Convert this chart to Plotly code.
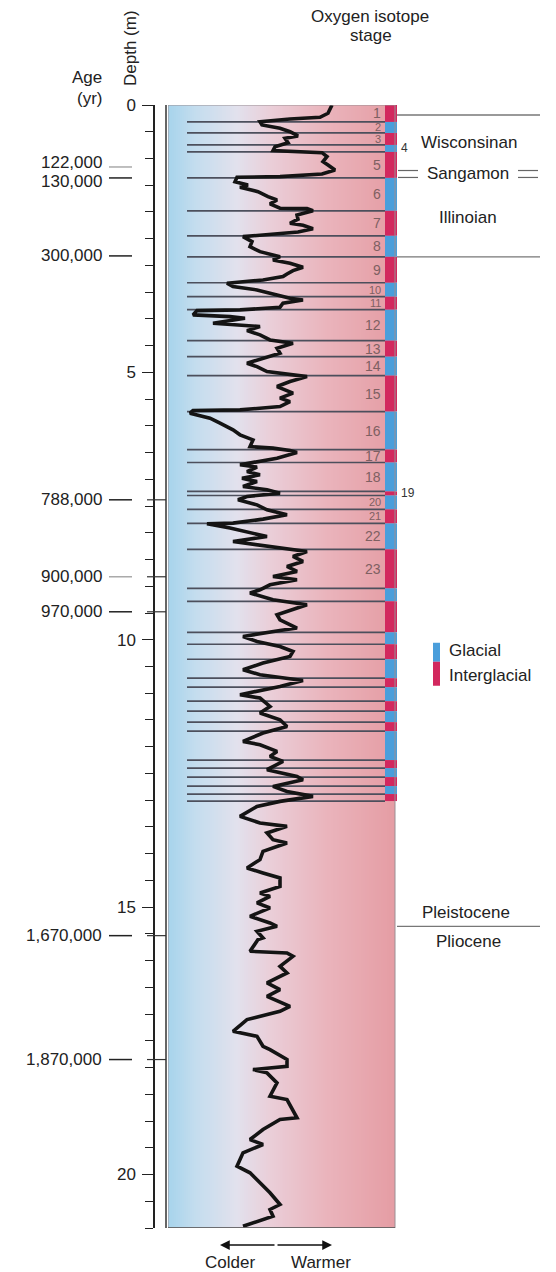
import plotly.graph_objects as go
import numpy as np

# ---------------- data ----------------
# Oxygen-isotope curve: depth (m) and relative temperature index (colder -> warmer)
curve_depth = [0.000, 0.155, 0.230, 0.262, 0.312, 0.374, 0.436, 0.499, 0.579, 0.622, 0.705, 0.779, 0.854, 0.869,
               0.892, 0.966, 1.060, 1.122, 1.215, 1.290, 1.340, 1.351, 1.434, 1.495, 1.538, 1.621, 1.714, 1.776,
               1.850, 1.931, 1.938, 1.976, 2.056, 2.136, 2.211, 2.249, 2.312, 2.374, 2.430, 2.462, 2.555, 2.649,
               2.742, 2.836, 2.897, 2.959, 3.034, 3.097, 3.159, 3.209, 3.271, 3.333, 3.396, 3.458, 3.551, 3.613,
               3.645, 3.707, 3.781, 3.832, 3.845, 3.925, 3.957, 3.987, 4.080, 4.144, 4.219, 4.299, 4.393, 4.454,
               4.548, 4.641, 4.828, 4.892, 4.985, 5.079, 5.172,
               5.265, 5.389, 5.482, 5.546, 5.639, 5.701, 5.714, 5.763, 5.856, 5.950, 6.075, 6.168, 6.262, 6.387,
               6.417, 6.462, 6.499, 6.604, 6.729, 6.772, 6.854, 6.916, 6.978, 7.041, 7.134, 7.196, 7.258, 7.321,
               7.383, 7.477, 7.570, 7.664, 7.744, 7.819, 7.832, 7.912, 8.006, 8.069, 8.163, 8.224, 8.286, 8.350,
               8.443, 8.536, 8.630, 8.723, 8.817, 8.879, 8.972, 9.065, 9.127, 9.252, 9.346, 9.439, 9.533, 9.626,
               9.781, 9.826, 9.938, 10.032, 10.125, 10.219, 10.312, 10.436,
               10.561, 10.654, 10.761, 10.873, 11.028, 11.090, 11.247, 11.370, 11.495, 11.621, 11.744, 11.901,
               11.963, 12.088, 12.181, 12.275, 12.430, 12.555, 12.617, 12.742, 12.836, 12.929, 13.022, 13.116,
               13.303, 13.426, 13.490, 13.613, 13.738, 13.800, 13.957, 14.112, 14.267, 14.361, 14.454, 14.611,
               14.735, 14.798, 14.921, 15.015, 15.172, 15.295, 15.359, 15.452, 15.576,
               15.607, 15.826, 15.856, 15.920, 16.107, 16.230, 16.417, 16.542, 16.667, 16.854, 16.948, 17.103,
               17.321, 17.415, 17.602, 17.664, 17.850, 17.976, 18.037, 18.099, 18.286, 18.536, 18.598, 18.940,
               18.972, 19.159, 19.346, 19.439, 19.594, 19.845, 19.968, 20.155, 20.342, 20.561, 20.654, 20.779,
               20.967]
curve_index = [164, 160, 152, 122, 92, 94, 112, 122, 130, 117, 120, 107, 105, 139,
               154, 159, 155, 160, 167, 154, 112, 69, 67, 80, 72, 90, 100, 109,
               102, 112, 139, 145, 129, 130, 122, 135, 145, 130, 99, 75, 84, 82,
               92, 112, 105, 122, 135, 125, 119, 115, 95, 59, 65, 89, 109, 122,
               135, 115, 112, 72, 29, 25, 62, 77, 45, 92, 79, 92, 102, 125,
               109, 112, 79, 89, 99, 139, 122,
               109, 125, 112, 122, 112, 72, 25, 22, 42, 52, 65, 72, 85, 82,
               105, 122, 129, 109, 72, 89, 79, 92, 74, 89, 75, 99, 112, 79,
               70, 89, 99, 119, 95, 65, 39, 62, 85, 99, 65, 89, 112, 139,
               125, 135, 119, 129, 105, 129, 102, 92, 82, 105, 139, 125, 109, 112,
               129, 112, 75, 89, 112, 125, 122, 95,
               75, 92, 135, 112, 72, 92, 102, 92, 112, 119, 95, 75,
               92, 109, 102, 115, 99, 129, 135, 105, 119, 145, 112, 89,
               72, 92, 119, 99, 105, 119, 95, 92, 79, 95, 112, 112,
               92, 102, 89, 102, 82, 102, 109, 89, 95,
               90, 82, 119, 125, 112, 119, 99, 112, 99, 122, 112, 79,
               65, 89, 95, 102, 119, 119, 85, 99, 109, 102, 119, 129,
               112, 95, 82, 95, 75, 69, 82, 92, 102, 112, 102, 105,
               75]

# Oxygen isotope stage boundaries (depth, m); stage n lies between bounds[n-1] and bounds[n]
stage_bounds = [0.000, 0.317, 0.523, 0.747, 0.878, 1.363, 1.979, 2.446, 2.839, 3.324, 3.585, 3.828,
                4.407, 4.706, 5.061, 5.733, 6.443, 6.685, 7.227, 7.302, 7.563, 7.824, 8.310, 9.038,
                9.281, 9.860, 10.084, 10.364, 10.719, 10.887, 11.149, 11.335, 11.541, 11.709, 12.250,
                12.400, 12.568, 12.736, 12.885, 13.016]
labelled_stages = list(range(1, 24))
outside_stages = [4, 19]
small_stages = [2, 3, 10, 11, 20, 21]

age_labels = ["122,000", "130,000", "300,000", "788,000", "900,000", "970,000", "1,670,000", "1,870,000"]
age_depths = [1.159, 1.364, 2.822, 7.383, 8.822, 9.477, 15.533, 17.850]
age_faint = [True, False, False, False, True, False, False, False]
age_cross = [False, False, False, True, True, True, True, True]

depth_ticks = [0, 5, 10, 15, 20]
depth_max = 21.0

epoch_lines = [0.187, 2.841, 15.36]     # Wisconsinan top, Illinoian base, Pleistocene/Pliocene
sangamon_depth = 1.29

GLACIAL = "#4a9edb"
INTERGLACIAL = "#d2285e"
FONT = "Liberation Sans, Arial, sans-serif"

# page geometry (the page body adds an 8 px margin)
OFF = 8
W, H = 556 - OFF, 1272 - OFF
TOP_PX, BOT_PX = 105, 1228          # plot area in window pixels
PANEL_L, PLOT_R = 168, 397
X_MAX = 229            # index units across plot width
PANEL_R = 227          # right edge of shaded panel
COL_L = 217            # stage column left edge


def px(x):
    return (x - OFF) / W


def py(y):
    return (BOT_PX - y) / (BOT_PX - TOP_PX)


fig = go.Figure()

# shaded background panel (cold blue -> warm pink)
n = 114
xe = np.linspace(0, PANEL_R, n + 1)
fig.add_trace(go.Heatmap(
    x=xe, y=[0, depth_max], z=[list(range(n))],
    colorscale=[[0.0, "rgb(168,212,236)"], [0.12, "rgb(196,221,238)"], [0.30, "rgb(226,225,237)"],
                [0.45, "rgb(234,206,216)"], [0.70, "rgb(234,180,188)"], [1.0, "rgb(229,157,164)"]],
    showscale=False, hoverinfo="skip"))

# stage boundary lines
lx, ly = [], []
for b in stage_bounds[1:]:
    lx += [19, COL_L, None]
    ly += [b, b, None]
fig.add_trace(go.Scatter(x=lx, y=ly, mode="lines", line=dict(color="#4c4f5c", width=1.7),
                         hoverinfo="skip"))

# isotope curve
fig.add_trace(go.Scatter(x=curve_index, y=curve_depth, mode="lines",
                         line=dict(color="#141414", width=3.6), hoverinfo="skip"))

shapes = []
# stage column
for i in range(len(stage_bounds) - 1):
    stage = i + 1
    shapes.append(dict(type="rect", xref="x", yref="y", x0=COL_L, x1=X_MAX,
                       y0=stage_bounds[i], y1=stage_bounds[i + 1],
                       fillcolor=INTERGLACIAL if stage % 2 else GLACIAL, line=dict(width=0), layer="above"))
# panel outline
shapes.append(dict(type="rect", xref="x", yref="y", x0=0, x1=PANEL_R, y0=0, y1=depth_max,
                   line=dict(color="#9a8f94", width=1), fillcolor="rgba(0,0,0,0)"))
shapes.append(dict(type="line", xref="x", yref="y", x0=0, x1=PANEL_R, y0=depth_max, y1=depth_max,
                   line=dict(color="#555", width=1.5)))
# inner border line left of panel
shapes.append(dict(type="line", xref="paper", yref="y", x0=px(166), x1=px(166), y0=0, y1=depth_max,
                   line=dict(color="#333", width=1.5)))

annotations = []
# stage numbers
for s in labelled_stages:
    mid = (stage_bounds[s - 1] + stage_bounds[s]) / 2
    if s in outside_stages:
        annotations.append(dict(x=px(399), xref="paper", y=mid, yref="y", text=str(s), showarrow=False,
                                xanchor="left", yanchor="middle", font=dict(family=FONT, size=12, color="#333")))
    else:
        size = 11 if s in small_stages else 14
        annotations.append(dict(x=COL_L - 2, xref="x", y=mid, yref="y", text=str(s), showarrow=False,
                                xanchor="right", yanchor="middle",
                                font=dict(family=FONT, size=size, color="#7e6062")))

# age labels
for lab, d, faint, cross in zip(age_labels, age_depths, age_faint, age_cross):
    shift = 0
    if lab == "122,000":
        shift = 4
    elif lab == "130,000":
        shift = -4
    annotations.append(dict(x=px(104), xref="paper", y=d, yref="y", text=lab, showarrow=False,
                            xanchor="right", yanchor="middle", yshift=shift,
                            font=dict(family=FONT, size=17, color="#222")))
    shapes.append(dict(type="line", xref="paper", yref="y", x0=px(109), x1=px(132), y0=d, y1=d,
                       line=dict(color="#aaaaaa" if faint else "#222", width=1.5)))
    if cross:
        shapes.append(dict(type="line", xref="paper", yref="y", x0=px(147), x1=px(166), y0=d, y1=d,
                           line=dict(color="#333", width=1.2)))

# right-hand epoch annotations
for d in epoch_lines:
    shapes.append(dict(type="line", xref="paper", yref="y", x0=px(397), x1=px(540), y0=d, y1=d,
                       line=dict(color="#777", width=1.3)))
for off in (-0.065, 0.065):
    for a, b in ((398, 418), (518, 538)):
        shapes.append(dict(type="line", xref="paper", yref="y", x0=px(a), x1=px(b),
                           y0=sangamon_depth + off, y1=sangamon_depth + off,
                           line=dict(color="#666", width=1.2)))


def txt(x, y, s, size=17, anchor="center", yref="y", color="#222", angle=0):
    annotations.append(dict(x=px(x), xref="paper", y=y, yref=yref, text=s, showarrow=False,
                            xanchor=anchor, yanchor="middle", textangle=angle,
                            font=dict(family=FONT, size=size, color=color)))


txt(469, 0.71, "Wisconsinan")
txt(468, sangamon_depth, "Sangamon")
txt(468, 2.112, "Illinoian")
txt(466, 15.10, "Pleistocene")
txt(468, 15.64, "Pliocene")

# legend
shapes.append(dict(type="rect", xref="paper", yref="y", x0=px(433), x1=px(440), y0=10.056, y1=10.411,
                   fillcolor=GLACIAL, line=dict(width=0)))
shapes.append(dict(type="rect", xref="paper", yref="y", x0=px(433), x1=px(440), y0=10.411, y1=10.86,
                   fillcolor=INTERGLACIAL, line=dict(width=0)))
txt(447, 10.206, "Glacial", anchor="left")
txt(447, 10.673, "Interglacial", anchor="left")

# header texts
txt(370, py(16), "Oxygen isotope", yref="paper")
txt(371, py(35), "stage", yref="paper")
txt(104, py(77), "Age", anchor="right", yref="paper")
txt(104, py(98), "(yr)", anchor="right", yref="paper")
txt(130, py(48), "Depth (m)", yref="paper", angle=-90)

# colder / warmer arrow
for tip, tail in ((220, 56), (332, -56)):
    annotations.append(dict(x=px(tip), xref="paper", y=py(1245), yref="paper", ax=tail, ay=0,
                            text="", showarrow=True, arrowhead=2, arrowsize=1.3, arrowwidth=1.5,
                            arrowcolor="#111"))
txt(230, py(1262), "Colder", yref="paper")
txt(321, py(1262), "Warmer", yref="paper")

fig.update_layout(
    width=W, height=H, margin=dict(l=0, r=0, t=TOP_PX - OFF, b=OFF + H - BOT_PX),
    paper_bgcolor="white", plot_bgcolor="white", showlegend=False,
    shapes=shapes, annotations=annotations,
    xaxis=dict(domain=[px(PANEL_L), px(PLOT_R)], range=[0, X_MAX], visible=False, fixedrange=True),
    yaxis=dict(range=[depth_max, 0], anchor="free", position=px(154), showline=True,
               linecolor="#222", linewidth=1.5, ticks="outside", ticklen=11, tickwidth=1.2,
               tickcolor="#222", tickvals=depth_ticks, ticktext=[str(t) for t in depth_ticks],
               tickfont=dict(family=FONT, size=17, color="#222"), ticklabelstandoff=3,
               showgrid=False, zeroline=False, fixedrange=True,
               minor=dict(dtick=0.5, ticks="outside", ticklen=8, tickwidth=1, tickcolor="#222",
                          showgrid=False)),
)

fig.write_html("out.html")
